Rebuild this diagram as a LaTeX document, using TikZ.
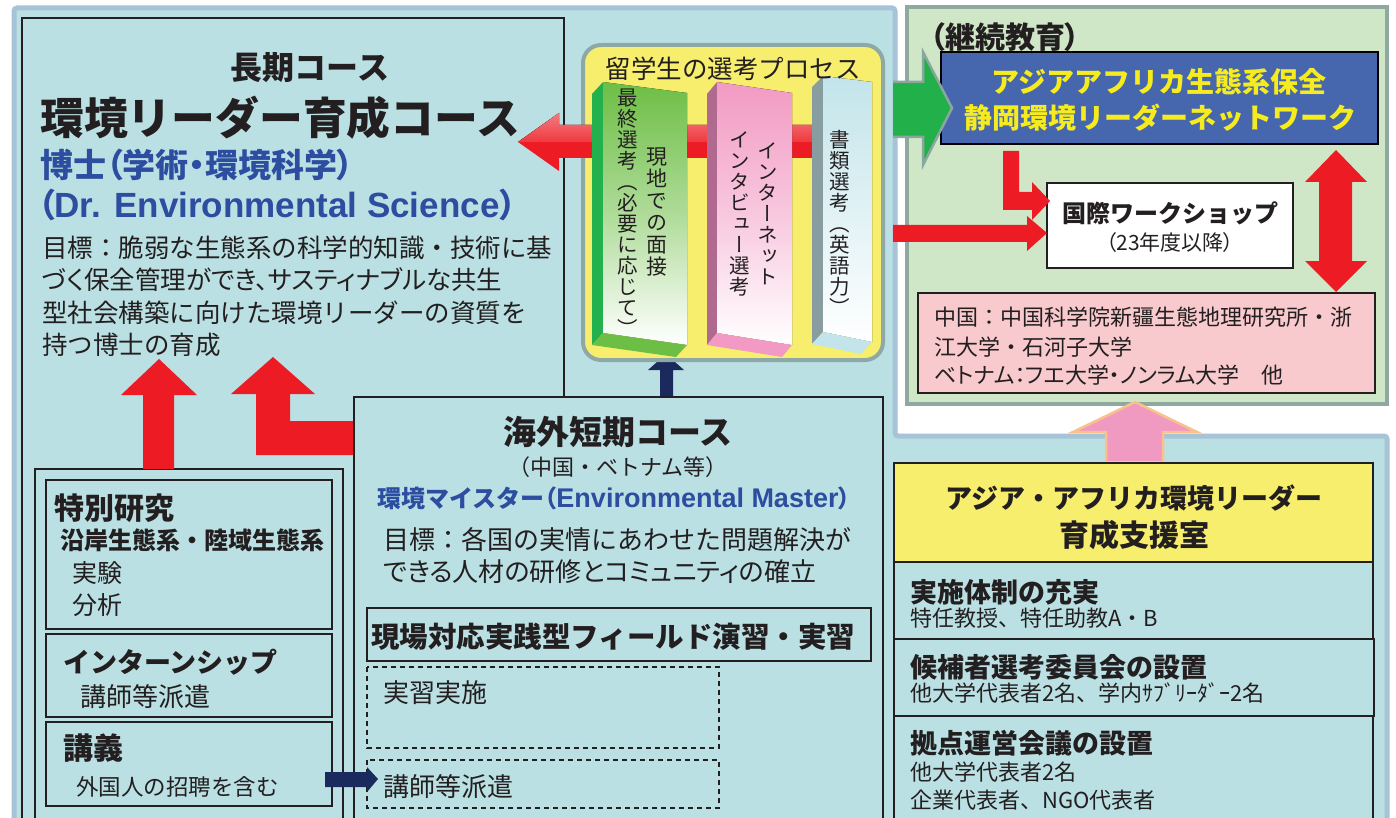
\documentclass[tikz,border=0pt]{standalone}
\usepackage{fontspec}
\setmainfont{Noto Sans CJK JP}
\newfontfamily\jpv{Noto Sans CJK JP}[RawFeature=+vert]
\newfontfamily\jpp{Noto Sans CJK JP}[RawFeature=+palt]
\newfontfamily\latf{Liberation Sans}
\newcommand\fsz[1]{\fontsize{#1}{#1}\selectfont}
\definecolor{ink}{HTML}{231F20}
\definecolor{panel}{HTML}{BBE0E3}
\definecolor{panelrim}{HTML}{A7C3D8}
\definecolor{greenpanel}{HTML}{D0E7C7}
\definecolor{greenrim}{HTML}{8FA9A1}
\definecolor{netblue}{HTML}{4666AD}
\definecolor{netyellow}{HTML}{F5EB1E}
\definecolor{titleblue}{HTML}{2C4DA0}
\definecolor{arrred}{HTML}{ED1C24}
\definecolor{arrredlight}{HTML}{F37C80}
\definecolor{navy}{HTML}{1B2A5C}
\definecolor{boxyellow}{HTML}{F6EE6C}
\definecolor{boxpink}{HTML}{F8CACD}
\definecolor{arrpink}{HTML}{F09AC1}
\definecolor{arrpeach}{HTML}{F9C28C}
\definecolor{arrgreen}{HTML}{22B04A}
\definecolor{arrgreenrim}{HTML}{8AA79F}
\definecolor{selrim}{HTML}{8EA8A5}
\definecolor{pgside}{HTML}{22B14C}
\definecolor{pgfront}{HTML}{6DBE45}
\definecolor{ppside}{HTML}{B0698F}
\definecolor{ppfront}{HTML}{F29AC3}
\definecolor{pcside}{HTML}{879DA0}
\definecolor{pcfront}{HTML}{C2E4EA}
\begin{document}
\begin{tikzpicture}[x=1pt,y=-1pt,
  lbl/.style={inner sep=0pt,text=ink,anchor=west},
  ctr/.style={inner sep=0pt,text=ink},
  frame/.style={draw=ink,line width=1.3pt},
  dframe/.style={draw=ink,line width=1.3pt,dash pattern=on 5pt off 4pt},
  vcol/.style={inner sep=0pt,text=ink,align=center,anchor=north,font=\jpv\fontsize{20.5}{21}\selectfont},
  redarr/.style={fill=arrred},
  navyarr/.style={fill=navy},
]
\fill[white] (0,0) rectangle (1396,818);
\useasboundingbox (0,0) rectangle (1396,818);

% ---------- panels
\draw[panelrim, fill=panel, line width=5pt, rounded corners=3pt] (14,8) -- (895,8) -- (895,436) -- (1387,436) -- (1387,850) -- (14,850) -- cycle;
\draw[greenrim, fill=greenpanel, line width=4pt] (907,7) rectangle (1387,404);

% ---------- long course
\draw[frame] (22,18) rectangle (564,850);
\node[ctr, font=\bfseries\fsz{32}] (lc1) at (310,68) {長期コース};
\node[lbl, font=\bfseries\fsz{43.8}] (lc2) at (40,118) {環境リーダー育成コース};
\node[lbl, text=titleblue, font=\jpp\bfseries\fsz{33}] (lc3) at (40,165) {博士（学術・環境科学）};
\node[lbl, text=titleblue, font=\jpp\bfseries\fsz{33}] (lc4) at (38,205) {（{\latf\bfseries\fsz{35}Dr. Environmental Science}）};
\node[lbl, font=\fsz{25.5}] (lc5) at (42,248) {目標：脆弱な生態系の科学的知識・技術に基};
\node[lbl, font=\jpp\fsz{25.5}] (lc6) at (42,280) {づく保全管理ができ、サスティナブルな共生};
\node[lbl, font=\fsz{25.5}] (lc7) at (42,313) {型社会構築に向けた環境リーダーの資質を};
\node[lbl, font=\fsz{25.5}] (lc8) at (42,345) {持つ博士の育成};

% left sub panel
\draw[frame] (35,469) rectangle (343,850);
\draw[frame] (46,480) rectangle (332,629);
\draw[frame] (46,634) rectangle (332,717);
\draw[frame] (46,722) rectangle (332,806);
\node[lbl, font=\bfseries\fsz{30}] (sr1) at (54,508) {特別研究};
\node[lbl, font=\bfseries\fsz{24}] (sr2) at (60,540) {沿岸生態系・陸域生態系};
\node[lbl, font=\fsz{25}] (sr3) at (72,573) {実験};
\node[lbl, font=\fsz{25}] (sr4) at (72,605) {分析};
\node[lbl, font=\bfseries\fsz{27}] (is1) at (63,662) {インターンシップ};
\node[lbl, font=\fsz{26}] (is2) at (80,697) {講師等派遣};
\node[lbl, font=\bfseries\fsz{30}] (kg1) at (63,748) {講義};
\node[lbl, font=\fsz{22.5}] (kg2) at (76,787) {外国人の招聘を含む};

% ---------- short course
\draw[frame, fill=panel] (354,397) rectangle (883,850);
\node[ctr, font=\bfseries\fsz{33}] (sc1) at (618,432) {海外短期コース};
\node[ctr, font=\fsz{22}] (sc2) at (618,467) {（中国・ベトナム等）};
\node[lbl, text=titleblue, font=\bfseries\fsz{24}] (sc3) at (377,498) {環境マイスター{\jpp（}{\latf\bfseries\fsz{27}Environmental Master}{\jpp）}};
\node[lbl, font=\fsz{26}] (sc4) at (383,540) {目標：各国の実情にあわせた問題解決が};
\node[lbl, font=\jpp\fsz{26}] (sc5) at (383,572) {できる人材の研修とコミュニティの確立};
\draw[frame] (367,608) rectangle (871,661);
\node[lbl, font=\bfseries\fsz{28.5}] (fe) at (371,637) {現場対応実践型フィールド演習・実習};
\draw[dframe] (367,667) rectangle (719,748);
\draw[dframe] (367,760) rectangle (719,808);
\node[lbl, font=\fsz{26}] (jj) at (383,693) {実習実施};
\node[lbl, font=\fsz{26}] (kh) at (383,787) {講師等派遣};

% red arrows bottom-left
\fill[redarr] (143,469) -- (143,395) -- (121,395) -- (159,359) -- (197,395) -- (174,395) -- (174,469) -- cycle;
\fill[redarr] (353,421) -- (290,421) -- (290,394) -- (315,394) -- (273,357) -- (231,394) -- (256,394) -- (256,455) -- (353,455) -- cycle;
% navy arrows
\fill[navyarr] (325,772) -- (367,772) -- (367,767) -- (378,779) -- (367,792) -- (367,787) -- (325,787) -- cycle;
\fill[navyarr] (660,396) -- (660,370) -- (648,370) -- (666,354) -- (684,370) -- (673,370) -- (673,396) -- cycle;

% ---------- selection process
\draw[selrim, fill=boxyellow, line width=4pt, rounded corners=18pt] (583,45) rectangle (883,360);
% big red arrow (behind pillars)
\fill[arrred] (518,142) -- (559,113) -- (559,125) -- (815,125) -- (815,158) -- (559,158) -- (559,171) -- cycle;
\fill[top color=arrredlight, bottom color=arrred!70!arrredlight] (518,142) -- (559,113) -- (559,125) -- (815,125) -- (815,142) -- cycle;
% pillar 1
\fill[pgside] (592,94) -- (603,82) -- (603,333) -- (592,345) -- cycle;
\fill[top color=pgfront, bottom color=white, middle color=pgfront!55!white] (603,82) -- (687,93) -- (687,345) -- (603,333) -- cycle;
\fill[pgfront] (603,333) -- (687,345) -- (676,357) -- (592,345) -- cycle;
% pillar 2
\fill[ppside] (707,94) -- (717,82) -- (717,333) -- (707,345) -- cycle;
\fill[top color=ppfront, bottom color=white, middle color=ppfront!55!white] (717,82) -- (792,93) -- (792,345) -- (717,333) -- cycle;
\fill[ppfront] (717,333) -- (792,345) -- (782,357) -- (707,345) -- cycle;
% pillar 3
\fill[pcside] (812,87) -- (823,76) -- (823,332) -- (812,344) -- cycle;
\fill[top color=pcfront, bottom color=white] (823,76) -- (872,82) -- (872,342) -- (823,332) -- cycle;
\fill[pcfront] (823,332) -- (872,342) -- (861,354) -- (812,344) -- cycle;
\node[vcol] (v1) at (628,89) {最\\終\\選\\考\\（\\必\\要\\に\\応\\じ\\て\\）};
\node[vcol, font=\jpv\fontsize{21}{22}\selectfont] (v2) at (657,148) {現\\地\\で\\の\\面\\接};
\node[vcol] (v3) at (768,142) {イ\\ン\\タ\\ー\\ネ\\ッ\\ト};
\node[vcol] (v4) at (740,131) {イ\\ン\\タ\\ビ\\ュ\\ー\\選\\考};
\node[vcol] (v5) at (840,130) {書\\類\\選\\考\\（\\英\\語\\力\\）};
\node[ctr, font=\fsz{25.5}] (selt) at (733,69) {留学生の選考プロセス};

% ---------- continuing education
\node[lbl, font=\jpp\bfseries\fsz{30}] (ce) at (930,37) {（継続教育）};
\draw[draw=black, fill=netblue, line width=2.5pt] (941,52) rectangle (1378,144);
\node[ctr, text=netyellow, font=\bfseries\fsz{28}] (nw1) at (1159,82) {アジアアフリカ生態系保全};
\node[ctr, text=netyellow, font=\bfseries\fsz{28}] (nw2) at (1160,118) {静岡環境リーダーネットワーク};
\draw[arrgreenrim, fill=arrgreen, line width=2.5pt] (893,82) -- (923,82) -- (923,52) -- (952,108) -- (923,165) -- (923,137) -- (893,137);
\draw[frame, fill=white, line width=1.5pt] (1047,183) rectangle (1293,268);
\node[ctr, font=\bfseries\fsz{24}] (ws1) at (1170,213) {国際ワークショップ};
\node[ctr, font=\jpp\fsz{21}] (ws2) at (1170,243) {（23年度以降）};
\draw[frame, fill=boxpink, line width=1.5pt] (918,293) rectangle (1375,393);
\node[lbl, font=\fsz{22}] (pk1) at (934,317) {中国：中国科学院新疆生態地理研究所・浙};
\node[lbl, font=\fsz{22}] (pk2) at (934,347) {江大学・石河子大学};
\node[lbl, font=\jpp\fsz{22}] (pk3) at (934,375) {ベトナム：フエ大学・ノンラム大学　他};
\fill[redarr] (893,225) -- (1027,225) -- (1027,216) -- (1047,233) -- (1027,251) -- (1027,242) -- (893,242) -- cycle;
\fill[redarr] (1003,151) -- (1019,151) -- (1019,192) -- (1032,192) -- (1032,182) -- (1050,201) -- (1032,220) -- (1032,210) -- (1003,210) -- cycle;
\fill[redarr] (1336,150) -- (1367,182) -- (1352,182) -- (1352,261) -- (1367,261) -- (1336,292) -- (1305,261) -- (1319,261) -- (1319,182) -- (1305,182) -- cycle;

% pink up arrow
\draw[arrpeach, fill=arrpink, line width=2.5pt] (1106,461) -- (1106,432) -- (1073,432) -- (1135,402) -- (1197,432) -- (1163,432) -- (1163,461);

% ---------- support office
\draw[frame, fill=boxyellow] (894,463) rectangle (1373,562);
\draw[frame] (894,562) rectangle (1373,639);
\draw[frame] (894,639) rectangle (1374,716);
\draw[frame] (894,716) rectangle (1373,850);
\node[ctr, font=\bfseries\fsz{27}] (so1) at (1134,498) {アジア・アフリカ環境リーダー};
\node[ctr, font=\bfseries\fsz{30}] (so2) at (1134,535) {育成支援室};
\node[lbl, font=\bfseries\fsz{27}] (b1) at (910,592) {実施体制の充実};
\node[lbl, font=\fsz{22}] (b1s) at (910,618) {特任教授、特任助教A・B};
\node[lbl, font=\bfseries\fsz{27}] (b2) at (910,667) {候補者選考委員会の設置};
\node[lbl, font=\fsz{22}] (b2s) at (910,693) {他大学代表者2名、学内ｻﾌﾞﾘｰﾀﾞｰ2名};
\node[lbl, font=\bfseries\fsz{27}] (b3) at (910,743) {拠点運営会議の設置};
\node[lbl, font=\fsz{22}] (b3s) at (910,772) {他大学代表者2名};
\node[lbl, font=\fsz{22}] (b3t) at (910,800) {企業代表者、NGO代表者};
\end{tikzpicture}
\end{document}
